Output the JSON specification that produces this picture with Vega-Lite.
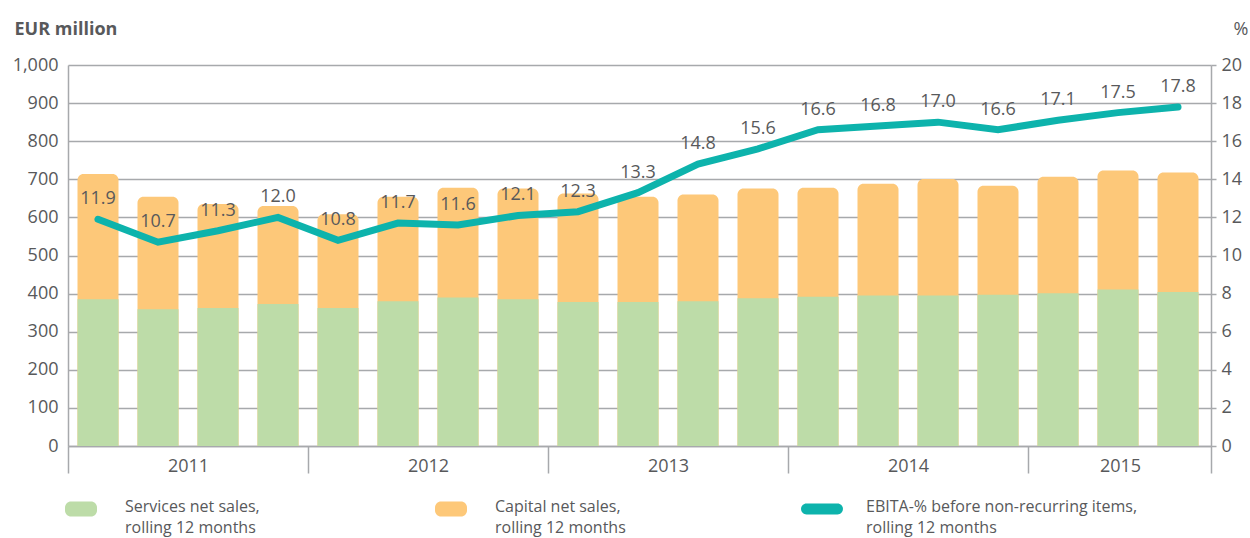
{
  "$schema": "https://vega.github.io/schema/vega-lite/v6.json",
  "width": 1143,
  "height": 381,
  "autosize": {"type": "none"},
  "padding": {"left": 68, "top": 65, "right": 39, "bottom": 92},
  "background": "white",
  "config": {
    "view": {"stroke": null},
    "font": "Open Sans",
    "axis": {"labelFont": "Open Sans", "titleFont": "Open Sans", "labelColor": "#58595b", "titleColor": "#58595b"},
    "legend": {"labelFont": "Open Sans"}
  },
  "data": {"values": [
    {"q": 1, "quarter": "2011 Q1", "services": 385, "total": 714, "ebita": 11.9},
    {"q": 2, "quarter": "2011 Q2", "services": 359, "total": 654, "ebita": 10.7},
    {"q": 3, "quarter": "2011 Q3", "services": 362, "total": 635, "ebita": 11.3},
    {"q": 4, "quarter": "2011 Q4", "services": 373, "total": 630, "ebita": 12.0},
    {"q": 5, "quarter": "2012 Q1", "services": 362, "total": 608, "ebita": 10.8},
    {"q": 6, "quarter": "2012 Q2", "services": 380, "total": 654, "ebita": 11.7},
    {"q": 7, "quarter": "2012 Q3", "services": 390, "total": 678, "ebita": 11.6},
    {"q": 8, "quarter": "2012 Q4", "services": 385, "total": 676, "ebita": 12.1},
    {"q": 9, "quarter": "2013 Q1", "services": 378, "total": 663, "ebita": 12.3},
    {"q": 10, "quarter": "2013 Q2", "services": 378, "total": 654, "ebita": 13.3},
    {"q": 11, "quarter": "2013 Q3", "services": 380, "total": 660, "ebita": 14.8},
    {"q": 12, "quarter": "2013 Q4", "services": 388, "total": 676, "ebita": 15.6},
    {"q": 13, "quarter": "2014 Q1", "services": 392, "total": 678, "ebita": 16.6},
    {"q": 14, "quarter": "2014 Q2", "services": 395, "total": 688, "ebita": 16.8},
    {"q": 15, "quarter": "2014 Q3", "services": 395, "total": 701, "ebita": 17.0},
    {"q": 16, "quarter": "2014 Q4", "services": 397, "total": 683, "ebita": 16.6},
    {"q": 17, "quarter": "2015 Q1", "services": 401, "total": 707, "ebita": 17.1},
    {"q": 18, "quarter": "2015 Q2", "services": 411, "total": 723, "ebita": 17.5},
    {"q": 19, "quarter": "2015 Q3", "services": 404, "total": 718, "ebita": 17.8}
  ]},
  "encoding": {
    "x": {
      "field": "q", "type": "quantitative",
      "scale": {"domain": [0.5, 19.55], "nice": false, "zero": false, "padding": 0},
      "axis": {
        "title": null,
        "grid": false,
        "values": [0.5, 4.5, 8.5, 12.5, 16.5, 19.55],
        "tickCount": 30,
        "labelExpr": "datum.value > 19 ? '' : toString(2011 + floor(datum.value / 4))",
        "labelOffset": {"condition": {"test": "datum.value > 16", "value": 92}, "value": 120},
        "labelFlush": false,
        "labelOverlap": false,
        "labelBound": false,
        "labelFontSize": 18,
        "labelPadding": -16,
        "tickSize": 27,
        "tickWidth": 1.5,
        "tickColor": "#a7a9ac",
        "domainColor": "#a7a9ac",
        "domainWidth": 1.5
      }
    }
  },
  "layer": [
    {
      "layer": [
        {
          "mark": {"type": "bar", "width": 41, "cornerRadiusTopLeft": 6, "cornerRadiusTopRight": 6},
          "encoding": {
            "y": {
              "field": "total", "type": "quantitative", "stack": null,
              "scale": {"domain": [0, 1000], "nice": false},
              "axis": {
                "orient": "left",
                "values": [0, 100, 200, 300, 400, 500, 600, 700, 800, 900, 1000],
                "tickCount": 30,
                "labelOverlap": false,
                "format": ",d",
                "title": "EUR million",
                "titleAngle": 0,
                "titleAlign": "left",
                "titleBaseline": "alphabetic",
                "titleX": -54,
                "titleY": -31,
                "titleFontSize": 18,
                "titleFontWeight": "bold",
                "labelFontSize": 18,
                "labelPadding": 10,
                "ticks": false,
                "grid": true,
                "gridColor": "#a7a9ac",
                "gridWidth": 1.5,
                "domainColor": "#a7a9ac",
                "domainWidth": 1.5
              }
            },
            "color": {
              "datum": "Capital net sales, rolling 12 months",
              "type": "nominal",
              "scale": {
                "domain": ["Services net sales, rolling 12 months", "Capital net sales, rolling 12 months", "EBITA-% before non-recurring items, rolling 12 months"],
                "range": ["#bddca8", "#fdc879", "#0db3ac"]
              },
              "legend": {
                "title": null,
                "orient": "none",
                "legendX": -3,
                "legendY": 428,
                "direction": "horizontal",
                "columns": 3,
                "columnPadding": 175,
                "padding": 0,
                "labelFontSize": 16,
                "labelColor": "#58595b",
                "labelLimit": 400,
                "labelOffset": 28,
                "labelBaseline": "top",
                "symbolSize": 1024,
                "symbolStrokeWidth": 0,
                "labelExpr": "[split(datum.label, ', ')[0] + ',', split(datum.label, ', ')[1]]",
                "encode": {
                  "symbols": {"update": {
                    "shape": {"signal": "indexof(datum.value, 'EBITA') >= 0 ? 'M-0.97,-0.34 L0.97,-0.34 A0.34,0.34 0 0 1 0.97,0.34 L-0.97,0.34 A0.34,0.34 0 0 1 -0.97,-0.34 Z' : 'M-0.625,-0.47 L0.625,-0.47 A0.375,0.375 0 0 1 1,-0.095 L1,0.095 A0.375,0.375 0 0 1 0.625,0.47 L-0.625,0.47 A0.375,0.375 0 0 1 -1,0.095 L-1,-0.095 A0.375,0.375 0 0 1 -0.625,-0.47 Z'"},
                    "fill": {"scale": "color", "field": "value"},
                    "stroke": {"value": "transparent"},
                    "opacity": {"value": 1},
                    "fillOpacity": {"value": 1}
                  }},
                  "labels": {"update": {"lineHeight": {"value": 21}, "dy": {"value": -10}}}
                }
              }
            }
          }
        },
        {
          "mark": {"type": "bar", "width": 41},
          "encoding": {
            "y": {"field": "services", "type": "quantitative", "stack": null},
            "color": {"datum": "Services net sales, rolling 12 months", "type": "nominal"}
          }
        }
      ]
    },
    {
      "layer": [
        {
          "mark": {"type": "line", "strokeWidth": 7, "strokeCap": "round"},
          "encoding": {
            "y": {
              "field": "ebita", "type": "quantitative",
              "scale": {"domain": [0, 20], "nice": false},
              "axis": {
                "orient": "right",
                "values": [0, 2, 4, 6, 8, 10, 12, 14, 16, 18, 20],
                "tickCount": 30,
                "labelOverlap": false,
                "format": "d",
                "title": "%",
                "titleAngle": 0,
                "titleAlign": "left",
                "titleBaseline": "alphabetic",
                "titleX": 22,
                "titleY": -31,
                "titleFontSize": 18,
                "titleFontWeight": "normal",
                "labelFontSize": 18,
                "labelPadding": 5,
                "tickSize": 5,
                "tickWidth": 1.5,
                "tickColor": "#a7a9ac",
                "grid": false,
                "domainColor": "#a7a9ac",
                "domainWidth": 1.5
              }
            },
            "color": {"datum": "EBITA-% before non-recurring items, rolling 12 months", "type": "nominal"}
          }
        },
        {
          "mark": {"type": "text", "dy": -20, "fontSize": 18, "color": "#58595b", "font": "Open Sans"},
          "encoding": {
            "y": {"field": "ebita", "type": "quantitative"},
            "text": {"field": "ebita", "type": "quantitative", "format": ".1f"}
          }
        }
      ]
    }
  ],
  "resolve": {"scale": {"y": "independent"}}
}
